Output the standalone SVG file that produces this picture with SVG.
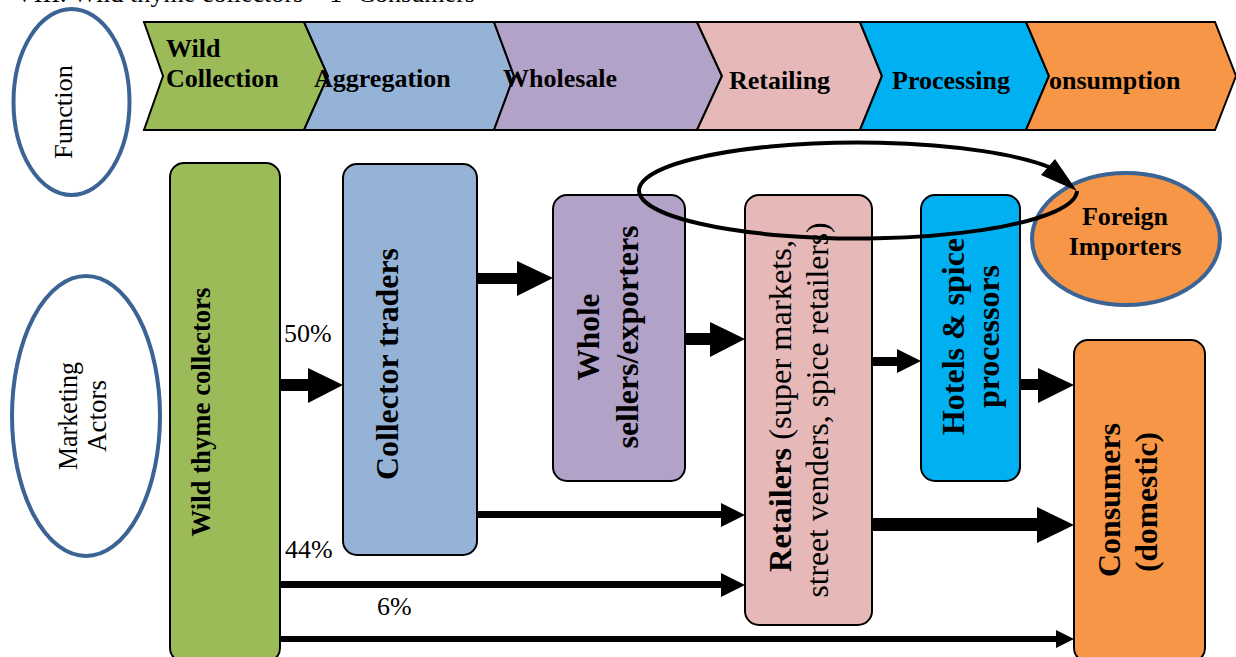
<svg xmlns="http://www.w3.org/2000/svg" width="1236" height="657" viewBox="0 0 1236 657">
<style>
text{font-family:"Liberation Serif","Times New Roman",serif;fill:#000}
.b{font-weight:bold}
.t26{font-size:26px}
.t27{font-size:27px}
.t31{font-size:31px}
.t32{font-size:32px}
.chev{stroke:#000;stroke-width:2;stroke-linejoin:miter}
.box{stroke:#000;stroke-width:2}
.oval{fill:none;stroke:#3B6494;stroke-width:4}
.arr{fill:#000;stroke:none}
.loop{fill:none;stroke:#000;stroke-width:4}
.green{fill:#9BBB59}.blue{fill:#95B3D7}.purple{fill:#B2A2C7}.pink{fill:#E6B9B8}.cyan{fill:#00B0F0}.orange{fill:#F79646}
</style>
<rect width="1236" height="657" fill="#fff"/>
<text class="t26" x="15" y="2" textLength="460" lengthAdjust="spacingAndGlyphs">VIII. Wild thyme collectors – 1- Consumers</text>

<g id="label-function">
<ellipse class="oval" cx="71.5" cy="102" rx="58" ry="93"/>
<text class="t26" transform="translate(72,112) rotate(-90)" text-anchor="middle" textLength="94" lengthAdjust="spacingAndGlyphs">Function</text>
</g>
<g id="label-actors">
<ellipse class="oval" cx="86" cy="416" rx="74" ry="140"/>
<text class="t27" transform="translate(77,416) rotate(-90)" text-anchor="middle" textLength="108" lengthAdjust="spacingAndGlyphs">Marketing</text>
<text class="t27" transform="translate(106,416) rotate(-90)" text-anchor="middle" textLength="72" lengthAdjust="spacingAndGlyphs">Actors</text>
</g>

<g id="fn-wild-collection">
<polygon class="chev green" points="144,22 304,22 328,76 304,130 144,130 163,76"/>
<text class="b t26" x="166" y="57">Wild</text>
<text class="b t26" x="166" y="87">Collection</text>
</g>
<g id="fn-aggregation">
<polygon class="chev blue" points="304,22 494,22 514,76 494,130 304,130 328,76"/>
<text class="b t26" x="314" y="87">Aggregation</text>
</g>
<g id="fn-wholesale">
<polygon class="chev purple" points="494,22 697,22 722,76 697,130 494,130 514,76"/>
<text class="b t26" x="503" y="87">Wholesale</text>
</g>
<g id="fn-retailing">
<polygon class="chev pink" points="697,22 860,22 882,76 860,130 697,130 722,76"/>
<text class="b t26" x="729" y="89">Retailing</text>
</g>
<g id="fn-processing">
<polygon class="chev cyan" points="860,22 1026,22 1049,76 1026,130 860,130 882,76"/>
<text class="b t26" x="892" y="89">Processing</text>
</g>
<g id="fn-consumption">
<polygon class="chev orange" points="1026,22 1215,22 1236,76 1215,130 1026,130 1049,76"/>
<text class="b t26" x="1049" y="89">onsumption</text>
</g>

<g id="wild-thyme-collectors">
<rect class="box green" x="170" y="163" width="110" height="499" rx="14"/>
<text class="b t27" transform="translate(210,412) rotate(-90)" text-anchor="middle" textLength="249" lengthAdjust="spacingAndGlyphs">Wild thyme collectors</text>
</g>
<g id="collector-traders">
<rect class="box blue" x="343" y="164" width="134" height="391" rx="14"/>
<text class="b t32" transform="translate(398,364) rotate(-90)" text-anchor="middle" textLength="232" lengthAdjust="spacingAndGlyphs">Collector traders</text>
</g>
<g id="wholesellers-exporters">
<rect class="box purple" x="553" y="195" width="132" height="286" rx="14"/>
<text class="b t32" transform="translate(599,337) rotate(-90)" text-anchor="middle" textLength="87" lengthAdjust="spacingAndGlyphs">Whole</text>
<text class="b t32" transform="translate(638,337) rotate(-90)" text-anchor="middle" textLength="223" lengthAdjust="spacingAndGlyphs">sellers/exporters</text>
</g>
<g id="retailers">
<rect class="box pink" x="745" y="195" width="127" height="430" rx="14"/>
<text class="t31" transform="translate(791,406) rotate(-90)" text-anchor="middle" textLength="332" lengthAdjust="spacingAndGlyphs"><tspan class="b">Retailers</tspan> (super markets,</text>
<text class="t31" transform="translate(828,410) rotate(-90)" text-anchor="middle" textLength="375" lengthAdjust="spacingAndGlyphs">street venders, spice retailers)</text>
</g>
<g id="hotels-spice-processors">
<rect class="box cyan" x="921" y="195" width="99" height="286" rx="14"/>
<text class="b t32" transform="translate(964,336.5) rotate(-90)" text-anchor="middle" textLength="197" lengthAdjust="spacingAndGlyphs">Hotels &amp; spice</text>
<text class="b t32" transform="translate(999,336.5) rotate(-90)" text-anchor="middle" textLength="143" lengthAdjust="spacingAndGlyphs">processors</text>
</g>
<g id="consumers-domestic">
<rect class="box orange" x="1074" y="340" width="131" height="322" rx="14"/>
<text class="b t32" transform="translate(1120,500) rotate(-90)" text-anchor="middle" textLength="154" lengthAdjust="spacingAndGlyphs">Consumers</text>
<text class="b t32" transform="translate(1157,502) rotate(-90)" text-anchor="middle" textLength="140" lengthAdjust="spacingAndGlyphs">(domestic)</text>
</g>
<g id="foreign-importers">
<ellipse cx="1126" cy="239" rx="94" ry="66" fill="#F79646" stroke="#3B6494" stroke-width="4"/>
<text class="b t26" x="1125" y="225" text-anchor="middle">Foreign</text>
<text class="b t26" x="1125" y="255" text-anchor="middle">Importers</text>
</g>

<g id="connectors">
<polygon class="arr" points="281,379 308,379 308,368 343,385 308,403 308,391 281,391"/>
<polygon class="arr" points="477,273 517,273 517,261 553,278 517,296 517,284 477,284"/>
<polygon class="arr" points="685,333 710,333 710,322 745,339 710,357 710,345 685,345"/>
<polygon class="arr" points="872,357 897,357 897,349 921,361 897,373 897,366 872,366"/>
<polygon class="arr" points="1020,379 1038,379 1038,368 1074,385 1038,403 1038,390 1020,390"/>
<polygon class="arr" points="872,518 1037,518 1037,507 1074,525 1037,543 1037,531 872,531"/>
<polygon class="arr" points="477,511 721,511 721,503 745,515 721,527 721,518 477,518"/>
<polygon class="arr" points="281,581 721,581 721,573 745,585 721,597 721,588 281,588"/>
<polygon class="arr" points="281,636 1056,636 1056,630 1074,639 1056,648 1056,642 281,642"/>
<path class="loop" d="M1077,191 A219 48 0 1 1 1049,167"/>
<polygon class="arr" points="1077,191 1041,175 1055,159"/>
<text class="t26" x="284" y="342">50%</text>
<text class="t26" x="285" y="558">44%</text>
<text class="t26" x="377" y="615">6%</text>
</g>
</svg>
